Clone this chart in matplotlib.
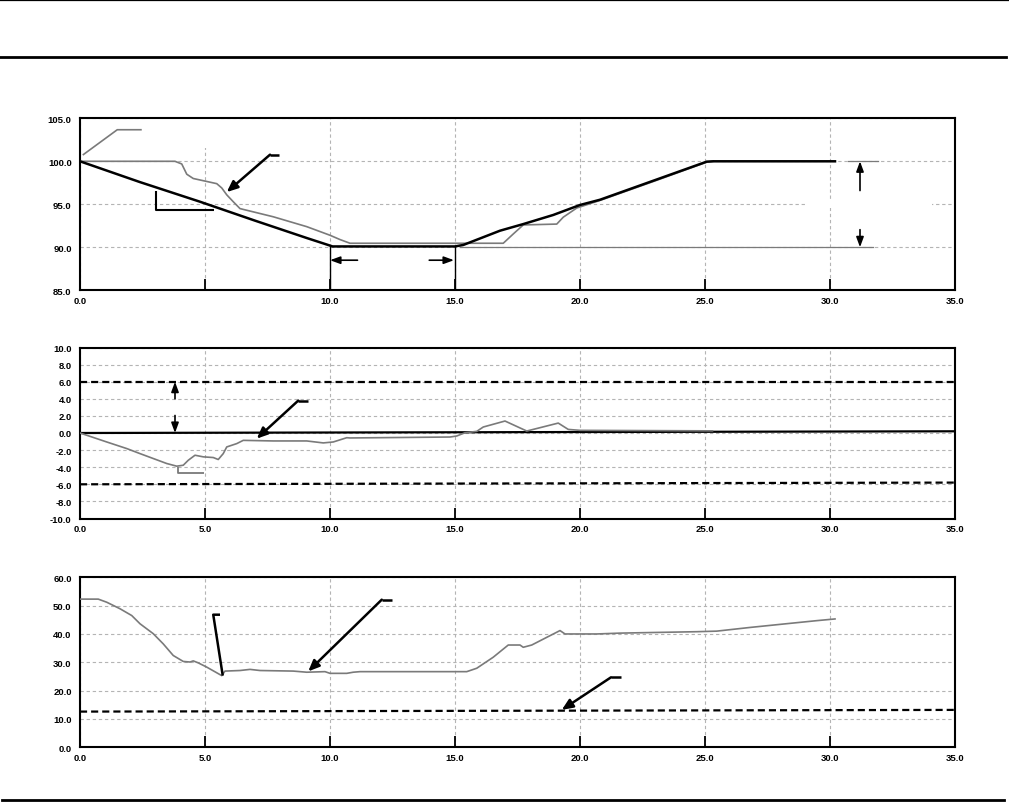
import matplotlib
matplotlib.use("Agg")
import matplotlib.pyplot as plt
from matplotlib.lines import Line2D
from matplotlib.patches import Rectangle

plt.rcParams['font.family'] = ['Liberation Sans', 'DejaVu Sans']

# ---------------- data ----------------
# Panel 1: elevation profiles
design_x = [0.0, 2.4, 4.8, 7.0, 9.07, 10.0, 10.1, 15.0, 15.33, 16.8, 17.73, 18.93, 20.0, 20.8, 25.07, 25.33, 30.2]
design_y = [100.0, 97.58, 95.3, 93.1, 91.08, 90.2, 90.1, 90.1, 90.27, 91.93, 92.7, 93.76, 94.92, 95.53, 99.96, 100.0, 100.0]

surveyed_x = [0.0, 3.8, 4.07, 4.27, 4.53, 5.0, 5.47, 5.67, 5.87, 6.13, 6.4, 7.73, 9.07, 10.0, 10.4, 10.8,
              16.93, 17.33, 17.73, 19.07, 19.33, 19.87, 20.8, 23.0, 25.07, 25.33]
surveyed_y = [100.0, 100.0, 99.69, 98.5, 98.0, 97.7, 97.4, 96.9, 96.1, 95.3, 94.5, 93.55, 92.4, 91.4, 90.9, 90.47,
              90.47, 91.55, 92.6, 92.7, 93.5, 94.57, 95.45, 97.72, 99.9, 100.0]

# Panel 2: deviation
dev_x = [0.0, 1.07, 1.87, 2.4, 3.47, 3.87, 4.13, 4.33, 4.6, 4.93, 5.33, 5.53, 5.73, 5.87, 6.27, 6.53,
         7.73, 9.07, 9.73, 10.13, 10.67, 10.8, 14.8, 15.07, 15.4, 15.87, 16.13, 17.0, 17.87, 19.13, 19.53,
         20.0, 25.3]
dev_y = [0.0, -1.05, -1.82, -2.41, -3.57, -3.88, -3.77, -3.19, -2.6, -2.79, -2.87, -3.1, -2.41, -1.63, -1.24, -0.86,
         -0.93, -0.93, -1.16, -1.05, -0.55, -0.58, -0.47, -0.35, 0.03, 0.19, 0.7, 1.4, 0.23, 1.16, 0.42,
         0.31, 0.25]
zero_x = [0.0, 35.0]
zero_y = [0.0, 0.2]
tol_hi_y = [6.0, 6.0]
tol_lo_y = [-6.0, -5.8]

# Panel 3: value profile
val_x = [0.0, 0.73, 1.07, 1.6, 2.07, 2.4, 2.93, 3.33, 3.73, 4.13, 4.4, 4.53, 4.73, 5.07, 5.67, 5.8, 6.4,
         6.8, 7.2, 8.53, 9.07, 9.8, 10.0, 10.67, 10.93, 11.2, 15.47, 15.87, 16.53, 17.13, 17.6, 17.73,
         18.07, 18.8, 19.2, 19.4, 20.67, 21.6, 24.67, 25.47, 26.8, 28.13, 29.47, 30.2]
val_y = [52.3, 52.3, 51.2, 48.9, 46.5, 43.6, 40.1, 36.5, 32.4, 30.3, 30.1, 30.5, 29.8, 28.3, 25.3, 26.9, 27.1,
         27.5, 27.1, 26.9, 26.5, 26.7, 26.1, 26.1, 26.5, 26.7, 26.7, 27.9, 31.8, 36.1, 36.1, 35.3,
         36.1, 39.4, 41.2, 40.0, 40.0, 40.3, 40.8, 41.0, 42.3, 43.5, 44.7, 45.3]
limit_x = [0.0, 35.0]
limit_y = [12.6, 13.2]

x_ticks = [0, 5, 10, 15, 20, 25, 30, 35]
top_x_labels = ['0.0', '', '10.0', '15.0', '20.0', '25.0', '30.0', '35.0']
top_y_ticks = [85, 90, 95, 100, 105]
mid_y_ticks = [-10, -8, -6, -4, -2, 0, 2, 4, 6, 8, 10]
bot_y_ticks = [0, 10, 20, 30, 40, 50, 60]

# ---------------- styling ----------------
GRAY = '#7a7a7a'
GRID = '#b4b4b4'
FS = 6.8
HEAD = '-|>,head_length=0.65,head_width=0.28'

fig = plt.figure(figsize=(10.09, 8.03), dpi=100)

L, W = 80 / 1009, 875 / 1009
def pos(top_px, bot_px):
    return [L, (803 - bot_px) / 803, W, (bot_px - top_px) / 803]

ax1 = fig.add_axes(pos(119.3, 291.3))
ax2 = fig.add_axes(pos(348.5, 519.5))
ax3 = fig.add_axes(pos(578.3, 748.3))

def style(ax, yticks, xlabels=None):
    ax.set_xlim(0, 35)
    ax.set_ylim(yticks[0], yticks[-1])
    ax.set_xticks(x_ticks)
    ax.set_yticks(yticks)
    ax.set_yticklabels([f"{v:.1f}" for v in yticks])
    if xlabels is None:
        xlabels = [f"{v:.1f}" for v in x_ticks]
    ax.set_xticklabels(xlabels)
    ax.set_axisbelow(True)
    ax.grid(True, color=GRID, lw=0.8, linestyle=(0, (3, 2.5)))
    ax.tick_params(axis='x', direction='in', length=8, width=1.3, pad=4, labelsize=FS)
    ax.tick_params(axis='y', length=0, pad=6, labelsize=FS)
    for lab in ax.get_xticklabels() + ax.get_yticklabels():
        lab.set_fontweight('bold')
    for s in ax.spines.values():
        s.set_linewidth(1.5)

def leader(ax, pts, tip=None, color='black', lw=1.8):
    """Polyline leader; if tip given, an arrow runs from pts[0] to tip."""
    xs = [p[0] for p in pts]
    ys = [p[1] for p in pts]
    ax.plot(xs, ys, color=color, lw=lw, solid_capstyle='butt', zorder=5)
    if tip is not None:
        ax.annotate('', xy=tip, xytext=pts[0],
                    arrowprops=dict(arrowstyle=HEAD, lw=lw, color=color,
                                    shrinkA=0, shrinkB=0), zorder=5)

def dim_arrow(ax, start, end, lw=1.2):
    ax.annotate('', xy=end, xytext=start,
                arrowprops=dict(arrowstyle='-|>,head_length=0.6,head_width=0.22',
                                lw=lw, color='black', shrinkA=0, shrinkB=0), zorder=5)

# ---------------- panel 1 ----------------
style(ax1, top_y_ticks, top_x_labels)
ax1.add_patch(Rectangle((29.0, 94.6), 5.07, 0.8, facecolor='white', edgecolor='none', zorder=0.8))
ax1.add_patch(Rectangle((2.6, 101.6), 3.0, 3.4, facecolor='white', edgecolor='none', zorder=0.8))
ax1.plot([15.2, 31.7], [90.0, 90.0], color=GRAY, lw=0.9, zorder=2)
ax1.plot([30.7, 31.9], [100.0, 100.0], color=GRAY, lw=0.9, zorder=2)
ax1.plot(surveyed_x, surveyed_y, color=GRAY, lw=1.2, zorder=3)
ax1.plot(design_x, design_y, color='black', lw=1.8, zorder=4)
ax1.plot([10.0, 10.0], [90.1, 85.0], color='black', lw=1.0, zorder=4)
ax1.plot([15.0, 15.0], [90.1, 85.0], color='black', lw=1.0, zorder=4)
dim_arrow(ax1, (11.1, 88.5), (10.0, 88.5))
dim_arrow(ax1, (13.97, 88.5), (14.96, 88.5))
dim_arrow(ax1, (31.2, 96.6), (31.2, 100.0))
dim_arrow(ax1, (31.2, 92.05), (31.2, 90.0))
leader(ax1, [(0.11, 100.73), (1.49, 103.67), (2.47, 103.67)], color=GRAY, lw=1.2)
leader(ax1, [(7.6, 100.77), (7.97, 100.77)], tip=(5.87, 96.42))
leader(ax1, [(3.04, 96.58), (3.04, 94.34), (5.36, 94.34)], lw=1.5)

# ---------------- panel 2 ----------------
style(ax2, mid_y_ticks)
ax2.plot(zero_x, tol_hi_y, color='black', lw=1.6, linestyle=(0, (3.2, 1.8)), zorder=3)
ax2.plot(zero_x, tol_lo_y, color='black', lw=1.6, linestyle=(0, (3.2, 1.8)), zorder=3)
ax2.plot(zero_x, zero_y, color='black', lw=1.6, zorder=3)
ax2.plot(dev_x, dev_y, color=GRAY, lw=1.2, zorder=4)
dim_arrow(ax2, (3.8, 4.0), (3.8, 6.0))
dim_arrow(ax2, (3.8, 2.05), (3.8, 0.0))
leader(ax2, [(8.73, 3.79), (9.13, 3.79)], tip=(7.07, -0.66))
leader(ax2, [(3.93, -3.95), (3.93, -4.73), (4.97, -4.73)], color=GRAY, lw=1.3)

# ---------------- panel 3 ----------------
style(ax3, bot_y_ticks)
ax3.plot(limit_x, limit_y, color='black', lw=1.6, linestyle=(0, (3.2, 1.8)), zorder=3)
ax3.plot(val_x, val_y, color=GRAY, lw=1.2, zorder=4)
leader(ax3, [(5.6, 46.8), (5.33, 46.8), (5.71, 25.3)], lw=1.8)
leader(ax3, [(12.07, 52.1), (12.47, 52.1)], tip=(9.13, 26.8))
leader(ax3, [(21.24, 24.7), (21.63, 24.7)], tip=(19.27, 13.2))

# ---------------- page rules ----------------
fig.add_artist(Line2D([0, 1], [1 - 1 / 803] * 2, transform=fig.transFigure, color='black', lw=0.9))
fig.add_artist(Line2D([0, 0.997], [1 - 57.5 / 803] * 2, transform=fig.transFigure, color='black', lw=2.0))
fig.add_artist(Line2D([0.002, 0.995], [2 / 803] * 2, transform=fig.transFigure, color='black', lw=2.0))

fig.savefig('out.png', dpi=100, facecolor='white')
